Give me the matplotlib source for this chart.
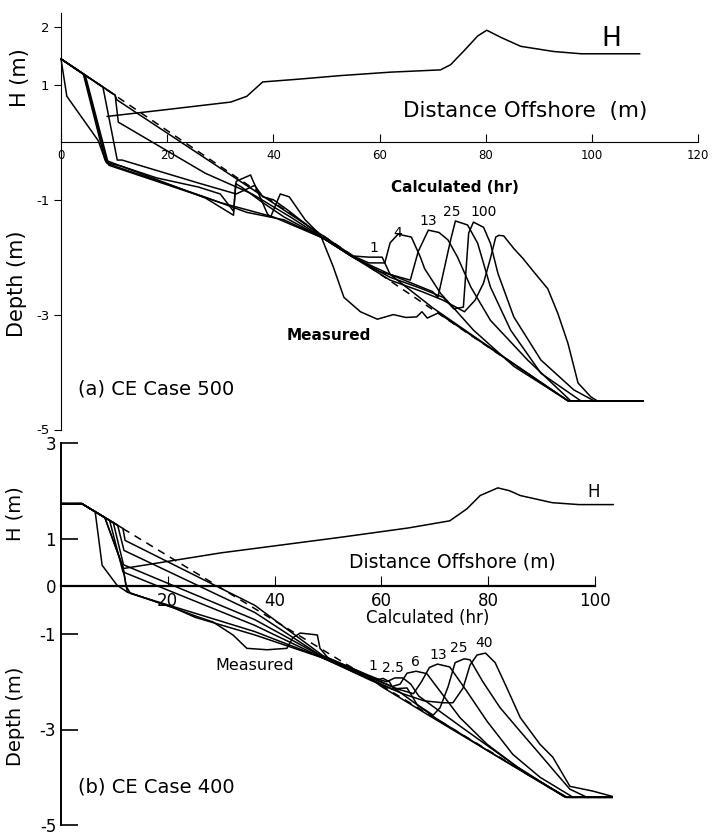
import matplotlib
matplotlib.use("Agg")
import matplotlib.pyplot as plt

plt.rcParams['font.family'] = ['DejaVu Sans']
plt.rcParams['axes.unicode_minus'] = False

# ---- (a) CE Case 500 ----
a_init_x = [0, 95.5, 109.6]
a_init_y = [1.45, -4.5, -4.5]

a_meas_x = [0, 1.1, 7.0, 8.5, 11.5, 18, 25.9, 30, 32.5, 33, 35.7, 38.9, 39.5, 41.3, 43, 46, 48.9,
            51.3, 53.3, 56.4, 59.6, 62.6, 65, 67, 68, 69, 71.1, 72, 95.5, 109.6]
a_meas_y = [1.45, 0.8, 0.03, -0.35, -0.42, -0.62, -0.78, -0.9, -1.2, -0.68, -0.57, -1.25, -1.3, -0.9, -0.95, -1.35, -1.62,
            -2.17, -2.7, -2.95, -3.08, -3.0, -3.05, -3.04, -2.95, -3.06, -2.97, -3.03, -4.5, -4.5]

a_c1_x = [0, 10.2, 10.5, 30, 49.4, 55, 58, 60.5, 62, 70, 80, 95.5, 109.6]
a_c1_y = [1.45, 0.82, 0.74, -0.45, -1.63, -1.98, -2.0, -2.0, -2.3, -2.88, -3.52, -4.5, -4.5]

a_c4_x = [0, 10.2, 10.8, 27.2, 36, 43.2, 49.4, 55, 58, 61, 62, 63.5, 66, 67.7, 68.5, 71.5, 77.7, 85.3, 95.5, 109.6]
a_c4_y = [1.45, 0.82, 0.35, -0.54, -0.9, -1.3, -1.67, -1.98, -2.1, -2.1, -1.75, -1.6, -1.65, -2.0, -2.2, -2.63, -3.27, -3.9, -4.5, -4.5]

a_c13_x = [0, 7.9, 10.6, 11.5, 25.9, 33, 36.5, 38, 40, 43, 49.4, 55, 60, 65.8, 67.3, 69.2, 71.2, 72.9,
           74.7, 77.2, 80.9, 87.9, 96, 109.6]
a_c13_y = [1.45, 0.96, -0.31, -0.31, -0.71, -0.9, -0.75, -0.95, -1.0, -1.2, -1.67, -2.0, -2.25, -2.4, -1.9, -1.53, -1.57, -1.7,
           -2.0, -2.52, -3.1, -3.79, -4.5, -4.5]

a_c25_x = [0, 4.2, 8.3, 27.2, 32.5, 32.9, 34, 38, 42, 49.4, 55, 62, 66, 70, 71, 73.4, 74.3, 76.6, 78.5,
           80.9, 84.7, 90.4, 97.9, 109.6]
a_c25_y = [1.45, 1.19, -0.31, -0.97, -1.27, -0.72, -0.78, -1.05, -1.3, -1.67, -2.0, -2.3, -2.45, -2.6, -2.7, -1.7, -1.37, -1.44, -1.76,
           -2.52, -3.27, -4.02, -4.5, -4.5]

a_c100_x = [0, 4.4, 8.7, 27, 35, 42, 49.4, 55, 62, 68, 72, 74, 75.8, 76.8, 77.7, 79.6, 80.9, 82.3, 85.3,
            90.4, 96.6, 100.4, 109.6]
a_c100_y = [1.45, 1.18, -0.37, -0.95, -1.22, -1.35, -1.67, -2.0, -2.35, -2.55, -2.7, -2.9, -2.87, -1.58, -1.39, -1.48, -1.76, -2.28, -3.04,
            -3.79, -4.31, -4.5, -4.5]

a_clast_x = [0, 4.6, 9.0, 30, 40, 49.4, 55, 62, 68, 72, 76, 78, 79.6, 80.9, 81.9, 82.5, 83.4, 85.3, 87,
             89.1, 91.7, 93.6, 95.5, 97.4, 99.8, 101, 109.6]
a_clast_y = [1.45, 1.16, -0.4, -1.05, -1.3, -1.67, -2.0, -2.4, -2.6, -2.75, -2.95, -2.75, -2.45, -2.02, -1.65, -1.62, -1.63, -1.85, -2.02,
             -2.26, -2.55, -2.98, -3.5, -4.19, -4.43, -4.5, -4.5]

a_H_x = [8.7, 20, 32, 35, 38, 45, 52.6, 62, 71.5, 73.4, 76, 78.5, 80.2, 83, 86.6, 92.8, 98, 109]
a_H_y = [0.45, 0.57, 0.7, 0.8, 1.05, 1.1, 1.16, 1.22, 1.26, 1.35, 1.6, 1.85, 1.95, 1.82, 1.67, 1.58, 1.54, 1.54]

a_hr_labels = ["1", "4", "13", "25", "100"]
a_hr_x = [58.9, 63.4, 69.2, 73.6, 79.6]
a_hr_y = [-1.84, -1.58, -1.37, -1.22, -1.22]

# ---- (b) CE Case 400 ----
b_init_x = [0, 3.9, 94.5, 103.2]
b_init_y = [1.73, 1.73, -4.42, -4.42]

b_meas_x = [0, 3.9, 6.4, 7.7, 10.5, 12.4, 21.3, 25.1, 28.5, 32.2, 34.8, 38.6, 42.3, 43.4, 44.8, 48, 48.5,
            50, 57, 60, 70, 80, 94.5, 103.2]
b_meas_y = [1.73, 1.73, 1.56, 0.44, 0.02, -0.12, -0.46, -0.62, -0.75, -1.02, -1.3, -1.33, -1.3, -1.08, -0.98, -1.02, -1.3,
            -1.5, -1.85, -2.1, -2.78, -3.45, -4.42, -4.42]

b_c1_x = [0, 3.9, 11.6, 12, 36.3, 49, 57.3, 59.5, 60.3, 61.5, 62, 70, 80, 94.5, 103.2]
b_c1_y = [1.73, 1.73, 1.21, 0.96, -0.4, -1.45, -1.85, -1.95, -1.93, -2.0, -2.1, -2.75, -3.45, -4.42, -4.42]

b_c25a_x = [0, 3.9, 10.6, 11.8, 36.3, 49, 58, 61, 62.5, 64, 65.5, 67, 75, 85, 94.5, 103.2]
b_c25a_y = [1.73, 1.73, 1.28, 0.75, -0.55, -1.48, -1.9, -2.0, -1.92, -1.92, -2.05, -2.3, -2.95, -3.75, -4.42, -4.42]

b_c6_x = [0, 3.9, 9.8, 11.7, 36.3, 49, 58, 62, 63.5, 64.8, 66.5, 68.5, 71, 74.7, 79.8, 87.3, 94.8, 103.2]
b_c6_y = [1.73, 1.73, 1.33, 0.45, -0.7, -1.48, -1.9, -2.1, -2.05, -1.82, -1.78, -1.83, -2.2, -2.75, -3.31, -3.94, -4.42, -4.42]

b_c13_x = [0, 3.9, 9.1, 11.6, 36.3, 49, 58, 63, 66, 67.5, 69, 70.5, 72.8, 76, 79.8, 84.6, 89.7, 95.9, 103.2]
b_c13_y = [1.73, 1.73, 1.38, 0.3, -0.82, -1.5, -1.92, -2.15, -2.25, -2.0, -1.7, -1.63, -1.69, -2.2, -2.83, -3.52, -4.0, -4.42, -4.42]

b_c25_x = [0, 3.9, 8.2, 11.6, 12.2, 13, 36.3, 49, 58, 62, 64.8, 66.7, 69.7, 71, 72.5, 73.8, 75.5, 76.6,
           79, 82.2, 86, 89.7, 92.9, 95.3, 98.5, 103.2]
b_c25_y = [1.73, 1.73, 1.44, 0.4, 0.0, -0.15, -0.95, -1.5, -1.95, -2.15, -2.13, -2.48, -2.7, -2.54, -2.1, -1.6, -1.52, -1.54,
           -2.0, -2.54, -3.04, -3.52, -3.94, -4.25, -4.42, -4.42]

b_c40_x = [0, 3.9, 8.2, 11.6, 12.4, 21.3, 25.1, 36.3, 49, 58, 64, 68, 71.5, 73.4, 75.3, 76.6, 77.9, 79.5,
           81.3, 83.5, 86, 89.7, 92.1, 95.3, 99.6, 103.2]
b_c40_y = [1.73, 1.73, 1.44, 0.4, -0.12, -0.46, -0.65, -1.02, -1.5, -1.97, -2.25, -2.4, -2.44, -2.44, -2.13, -1.65, -1.44, -1.4,
           -1.6, -2.13, -2.75, -3.31, -3.58, -4.19, -4.29, -4.4]

b_H_x = [11.6, 30, 52, 65, 72.8, 76, 78.5, 81.8, 84, 86, 92, 97, 103.4]
b_H_y = [0.37, 0.7, 1.02, 1.22, 1.37, 1.62, 1.9, 2.06, 2.0, 1.9, 1.75, 1.71, 1.71]

b_hr_labels = ["1", "2.5", "6", "13", "25", "40"]
b_hr_x = [58.4, 62.2, 66.3, 70.6, 74.5, 79.2]
b_hr_y = [-1.68, -1.71, -1.58, -1.44, -1.3, -1.19]

fig = plt.figure(figsize=(7.13, 8.35), dpi=100)
lw = 1.1

# top panel
ax1 = fig.add_axes([61/713, 1-429.5/835, 637/713, 416.5/835])
ax1.set_xlim(0, 120)
ax1.set_ylim(-5, 2.25)
ax1.plot(a_init_x, a_init_y, color="black", lw=lw, ls=(0, (5, 4)))
for xs, ys in [(a_meas_x, a_meas_y), (a_c1_x, a_c1_y), (a_c4_x, a_c4_y), (a_c13_x, a_c13_y),
               (a_c25_x, a_c25_y), (a_c100_x, a_c100_y), (a_clast_x, a_clast_y), (a_H_x, a_H_y)]:
    ax1.plot(xs, ys, color="black", lw=lw, clip_on=False)
for lab, x, y in zip(a_hr_labels, a_hr_x, a_hr_y):
    ax1.text(x, y, lab, fontsize=10, ha="center", va="center")
ax1.spines["top"].set_visible(False)
ax1.spines["right"].set_visible(False)
ax1.spines["bottom"].set_position(("data", 0))
ax1.spines["bottom"].set_bounds(0, 120)
ax1.spines["left"].set_bounds(-5, 2.25)
ax1.set_xticks([0, 20, 40, 60, 80, 100, 120])
ax1.set_yticks([2, 1, -1, -3, -5])
ax1.tick_params(axis="x", direction="in", length=6, labelsize=8.5, pad=5)
ax1.tick_params(axis="y", direction="out", length=5, labelsize=9.5)
ax1.text(103.6, 1.8, "H", fontsize=19, ha="center", va="center")
ax1.text(87.5, 0.55, "Distance Offshore  (m)", fontsize=15.5, ha="center", va="center")
ax1.text(74.3, -0.78, "Calculated (hr)", fontsize=11, fontweight="bold", ha="center", va="center")
ax1.text(50.5, -3.36, "Measured", fontsize=11, fontweight="bold", ha="center", va="center")
ax1.text(3.2, -4.3, "(a) CE Case 500", fontsize=14, ha="left", va="center")
ax1.text(-7.8, 1.13, "H (m)", fontsize=15, rotation=90, ha="center", va="center")
ax1.text(-8.3, -2.47, "Depth (m)", fontsize=15, rotation=90, ha="center", va="center")

# bottom panel
ax2 = fig.add_axes([61/713, 1-825/835, 104*5.34/713, 382/835])
ax2.set_xlim(0, 104)
ax2.set_ylim(-5, 3)
ax2.plot(b_init_x, b_init_y, color="black", lw=lw, ls=(0, (5, 4)))
for xs, ys in [(b_meas_x, b_meas_y), (b_c1_x, b_c1_y), (b_c25a_x, b_c25a_y), (b_c6_x, b_c6_y),
               (b_c13_x, b_c13_y), (b_c25_x, b_c25_y), (b_c40_x, b_c40_y), (b_H_x, b_H_y)]:
    ax2.plot(xs, ys, color="black", lw=lw, clip_on=False)
for lab, x, y in zip(b_hr_labels, b_hr_x, b_hr_y):
    ax2.text(x, y, lab, fontsize=10, ha="center", va="center")
ax2.spines["top"].set_visible(False)
ax2.spines["right"].set_visible(False)
ax2.spines["bottom"].set_position(("data", 0))
ax2.spines["bottom"].set_bounds(0, 100)
ax2.spines["bottom"].set_linewidth(1.6)
ax2.spines["left"].set_linewidth(1.4)
ax2.spines["left"].set_bounds(-5, 3)
ax2.set_xticks([20, 40, 60, 80, 100])
ax2.set_yticks([3, 1, 0, -1, -3, -5])
ax2.tick_params(axis="x", direction="in", length=7, labelsize=12, pad=4)
ax2.tick_params(axis="y", direction="in", length=12, labelsize=12, width=1.2)
ax2.text(99.8, 1.98, "H", fontsize=12, ha="center", va="center")
ax2.text(73.2, 0.5, "Distance Offshore (m)", fontsize=13.5, ha="center", va="center")
ax2.text(68.7, -0.67, "Calculated (hr)", fontsize=12, ha="center", va="center")
ax2.text(36.3, -1.65, "Measured", fontsize=11.5, ha="center", va="center")
ax2.text(3.2, -4.2, "(b) CE Case 400", fontsize=14, ha="left", va="center")
ax2.text(-8.6, 1.52, "H (m)", fontsize=14, rotation=90, ha="center", va="center")
ax2.text(-8.6, -2.73, "Depth (m)", fontsize=14, rotation=90, ha="center", va="center")

fig.savefig("out.png", dpi=100)
